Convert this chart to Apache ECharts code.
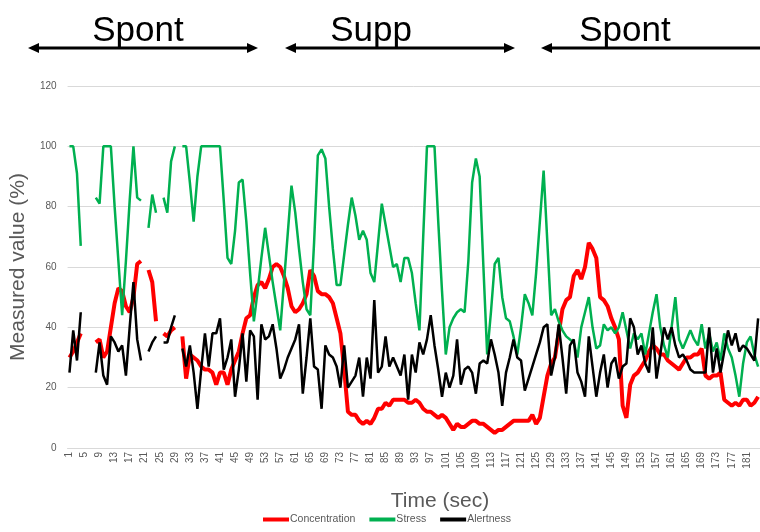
<!DOCTYPE html>
<html>
<head>
<meta charset="utf-8">
<script src="https://cdn.jsdelivr.net/npm/echarts@6/dist/echarts.min.js"></script>
<style>
html,body{margin:0;padding:0;background:#fff;}
#c{width:760px;height:532px;}
</style>
</head>
<body>
<div id="c"></div>
<script>
// Time categories 1..184 (sec)
var categories = [];
for (var t = 1; t <= 184; t++) categories.push(String(t));

var yTicks = [0, 20, 40, 60, 80, 100, 120];

var concentration = [
30,32,35,38,null,null,null,35,36,30,
32,40,48,53,52,47,45,50,61,62,
null,59,55,42,null,38,37,39,40,null,
37,23,31,30,29,27,26,26,25,21,
25,25,21,26,29,32,38,43,44,50,
54,55,53,56,60,61,60,57,53,47,
45,46,48,51,59,57,52,51,51,50,
48,43,38,26,12,11,11,9,8,9,
8,10,13,13,15,14,16,16,16,16,
15,15,16,15,13,12,12,11,10,11,
10,8,6,8,7,7,8,9,9,8,
8,7,6,5,6,6,7,8,9,9,
9,9,9,11,8,10,17,24,28,30,
38,46,49,50,57,59,56,60,68,66,
63,50,49,47,43,40,36,14,10,21,
24,25,27,29,32,34,33,31,31,29,
28,27,26,28,30,30,31,31,33,24,
23,24,24,25,16,15,14,15,14,16,
16,14,15,17
];

var stress = [
100,100,91,67,null,null,null,83,81,100,
100,100,80,62,44,62,82,100,83,82,
null,73,84,78,null,83,78,95,100,null,
100,100,88,75,90,100,100,100,100,100,
100,82,63,61,72,88,89,75,58,42,
52,63,73,64,55,47,39,55,71,87,
78,66,55,46,44,68,97,99,96,80,
66,54,54,64,74,83,77,69,72,69,
58,55,68,81,74,67,60,61,55,63,
63,58,48,39,70,100,100,100,75,52,
31,40,43,45,46,45,62,88,96,90,
60,31,45,61,63,50,43,42,37,31,
40,51,48,44,58,75,92,68,44,46,
42,39,37,36,35,30,40,45,50,40,
33,34,41,39,40,38,40,45,39,33,
38,36,38,31,38,45,51,40,34,30,
40,50,36,33,36,39,36,34,41,33,
38,32,35,29,38,33,30,24,17,28,
35,37,31,27
];

var alertness = [
25,39,29,45,null,null,null,25,35,24,
21,37,35,32,34,24,40,55,36,29,
null,32,35,37,null,35,35,40,44,null,
33,27,34,25,13,26,38,27,38,38,
43,26,30,36,17,26,38,22,39,37,
16,41,36,37,41,33,23,26,30,33,
36,41,18,30,43,27,26,13,34,31,
30,27,20,34,20,22,24,30,17,30,
23,49,25,27,37,27,30,27,24,31,
16,31,25,35,31,36,44,34,26,17,
25,20,24,36,21,26,27,25,18,28,
29,28,36,31,25,14,25,30,36,30,
29,19,23,27,31,35,40,41,24,30,
41,30,18,34,36,25,22,17,37,27,
17,25,31,20,28,30,23,27,28,43,
40,31,34,28,25,40,23,31,40,36,
40,34,30,31,29,26,25,25,25,25,
40,25,33,25,32,39,34,38,32,34,
33,31,29,43
];

var phases = ['Spont', 'Supp', 'Spont'];

var FONT = '"Liberation Sans", Arial, sans-serif';
var GREY = '#595959';

function arrow(x0, x1, y) {
  var h = 11, w = 5;
  return [
    { type: 'line', shape: { x1: x0 + 6, y1: y, x2: x1 - 6, y2: y }, style: { stroke: '#000', lineWidth: 3 } },
    { type: 'polygon', shape: { points: [[x0, y], [x0 + h, y - w], [x0 + h, y + w]] }, style: { fill: '#000' } },
    { type: 'polygon', shape: { points: [[x1, y], [x1 - h, y - w], [x1 - h, y + w]] }, style: { fill: '#000' } }
  ];
}

var graphics = [];
graphics = graphics.concat(arrow(28, 258, 48), arrow(285, 515, 48), arrow(541, 772, 48));
var phaseX = [138, 371, 625];
phases.forEach(function (p, i) {
  graphics.push({ type: 'text', x: phaseX[i], y: 31, style: { text: p, fontSize: 35, fontFamily: FONT, fill: '#000', align: 'center', verticalAlign: 'middle' } });
});
graphics.push({ type: 'text', x: 440, y: 501, style: { text: 'Time (sec)', fontSize: 21, fontFamily: FONT, fill: GREY, align: 'center', verticalAlign: 'middle' } });

var chart = echarts.init(document.getElementById('c'));
chart.setOption({
  animation: false,
  backgroundColor: '#fff',
  textStyle: { fontFamily: FONT },
  grid: { left: 65, right: 0, top: 86, bottom: 84, containLabel: false },
  legend: {
    bottom: 2,
    left: 258,
    icon: 'rect',
    itemWidth: 26,
    itemHeight: 4,
    itemGap: 14,
    textStyle: { fontSize: 10.5, color: GREY, fontFamily: FONT, padding: [0, 0, 0, -4] },
    data: ['Concentration', 'Stress', 'Alertness']
  },
  xAxis: {
    type: 'category',
    data: categories,
    boundaryGap: true,
    axisLine: { lineStyle: { color: '#d9d9d9', width: 1 } },
    axisTick: { show: false },
    axisLabel: { interval: 3, rotate: 90, fontSize: 10, color: GREY, margin: 4, fontFamily: FONT },
    splitLine: { show: false }
  },
  yAxis: {
    type: 'value',
    min: yTicks[0],
    max: yTicks[yTicks.length - 1],
    interval: 20,
    name: 'Measured value (%)',
    nameLocation: 'middle',
    nameGap: 28,
    nameTextStyle: { fontSize: 21, color: GREY, fontFamily: FONT },
    axisLine: { show: false },
    axisTick: { show: false },
    axisLabel: { fontSize: 10, color: GREY, margin: 11, fontFamily: FONT },
    splitLine: { lineStyle: { color: '#d9d9d9', width: 1 } }
  },
  series: [
    { name: 'Concentration', type: 'line', data: concentration, symbol: 'none', connectNulls: false, itemStyle: { color: '#ff0000' }, lineStyle: { color: '#ff0000', width: 4 } },
    { name: 'Stress', type: 'line', data: stress, symbol: 'none', connectNulls: false, itemStyle: { color: '#00b050' }, lineStyle: { color: '#00b050', width: 2.5 } },
    { name: 'Alertness', type: 'line', data: alertness, symbol: 'none', connectNulls: false, itemStyle: { color: '#000000' }, lineStyle: { color: '#000000', width: 2.5 } }
  ],
  graphic: graphics
});
</script>
</body>
</html>
